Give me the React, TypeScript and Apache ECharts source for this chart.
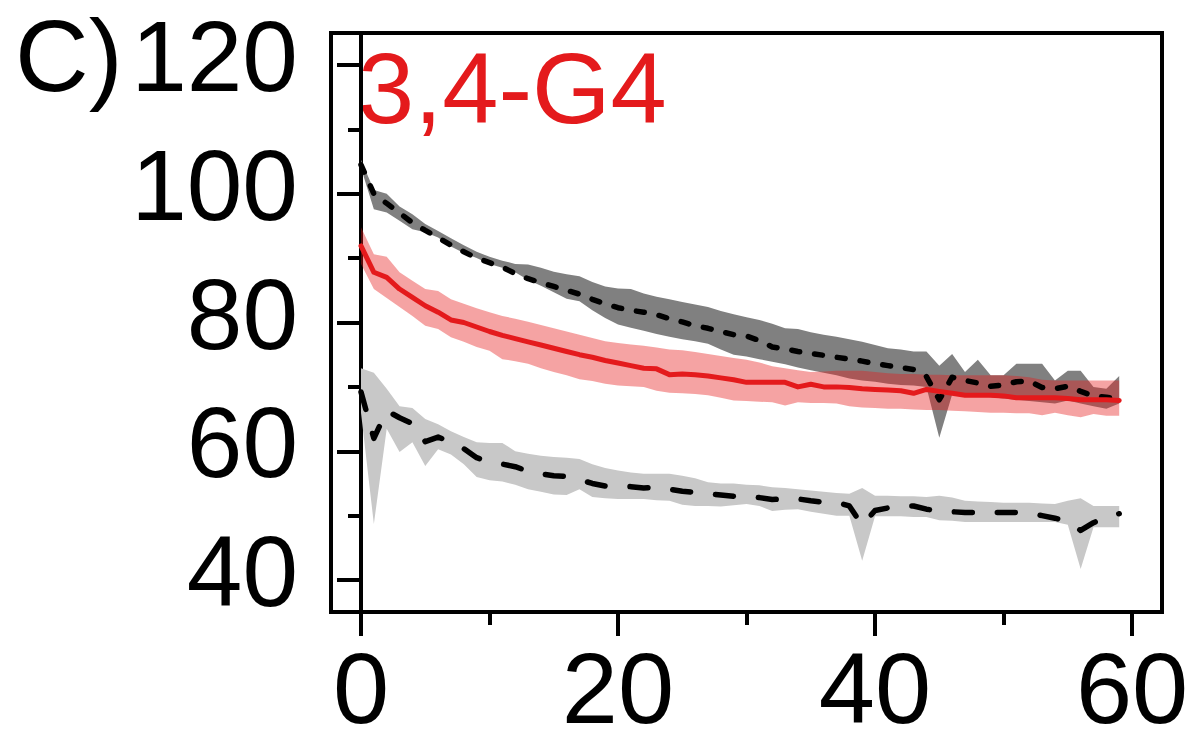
import React, { useEffect, useRef } from "react";
import * as echarts from "echarts";

// time points 0..59
const timePoints = [
  0, 1, 2, 3, 4, 5, 6, 7, 8, 9, 10, 11, 12, 13, 14, 15, 16, 17, 18, 19,
  20, 21, 22, 23, 24, 25, 26, 27, 28, 29, 30, 31, 32, 33, 34, 35, 36, 37, 38, 39,
  40, 41, 42, 43, 44, 45, 46, 47, 48, 49, 50, 51, 52, 53, 54, 55, 56, 57, 58, 59,
];

// red series (3,4-G4)
const redMean = [
  91.9, 87.8, 87.0, 85.2, 83.9, 82.6, 81.6, 80.4, 80.0, 79.3, 78.6, 78.0, 77.5, 77.0, 76.5, 76.0, 75.5, 75.0, 74.6, 74.1,
  73.7, 73.3, 72.9, 72.8, 71.9, 72.0, 71.9, 71.7, 71.4, 71.1, 70.7, 70.7, 70.7, 70.7, 70.0, 70.4, 70.0, 70.0, 69.9, 69.7,
  69.6, 69.5, 69.4, 69.0, 69.6, 69.3, 69.0, 68.7, 68.7, 68.7, 68.6, 68.3, 68.3, 68.3, 68.3, 68.2, 68.0, 68.0, 68.0, 67.9,
];
const redUpper = [
  94.8, 90.6, 90.2, 87.8, 86.5, 85.2, 84.9, 83.6, 82.9, 82.2, 81.6, 81.0, 80.6, 80.1, 79.6, 79.1, 78.6, 78.1, 77.6, 77.1,
  76.8, 76.6, 76.4, 76.1, 75.8, 75.7, 75.4, 75.1, 74.8, 74.5, 74.2, 73.8, 73.2, 72.9, 72.6, 72.3, 72.4, 72.5, 72.5, 72.5,
  72.3, 72.1, 72.0, 72.0, 71.9, 71.9, 71.8, 71.8, 71.8, 71.8, 71.8, 71.7, 71.5, 71.1, 71.0, 71.0, 71.0, 71.0, 71.0, 71.0,
];
const redLower = [
  89.1, 85.2, 83.8, 82.4, 81.0, 79.5, 79.0, 77.7, 77.0, 76.2, 75.6, 74.3, 74.0, 73.6, 72.9, 72.3, 71.8, 71.2, 70.9, 70.5,
  70.2, 70.1, 70.0, 69.4, 69.1, 69.0, 68.9, 68.7, 68.3, 67.9, 67.8, 67.7, 67.6, 67.1, 67.6, 67.5, 67.5, 67.4, 67.0, 66.8,
  66.7, 66.6, 66.6, 66.5, 66.4, 66.4, 66.3, 66.2, 66.1, 66.0, 66.0, 65.9, 65.9, 65.6, 66.0, 65.6, 65.3, 65.8, 65.5, 65.5,
];

// dark grey reference series (dashed black)
const darkMean = [
  104.5, 100.0, 98.5, 97.0, 95.5, 94.3, 93.2, 92.0, 91.0, 90.0, 89.3, 88.6, 87.6, 86.8, 86.2, 85.6, 85.0, 84.4, 83.6, 82.9,
  82.3, 81.9, 81.6, 81.2, 80.6, 80.1, 79.5, 79.1, 78.6, 78.1, 77.9, 77.2, 76.2, 75.9, 75.5, 75.2, 74.9, 74.6, 74.3, 74.0,
  73.6, 73.3, 73.0, 72.7, 71.6, 68.0, 71.5, 71.0, 70.6, 70.1, 70.3, 70.8, 70.9, 69.9, 69.7, 70.1, 69.3, 68.6, 68.4, 68.0,
];
const darkUpper = [
  105.3, 100.6, 100.0, 98.0, 96.8, 95.3, 94.2, 93.1, 92.0, 91.0, 90.2, 89.6, 89.1, 89.0, 88.5, 87.9, 87.5, 87.2, 86.3, 85.6,
  85.3, 85.2, 84.5, 84.0, 83.6, 83.2, 82.8, 82.4, 81.8, 81.3, 80.8, 80.4, 79.8, 79.1, 79.0, 78.5, 78.1, 77.8, 77.4, 77.0,
  76.5, 76.0, 75.8, 75.5, 75.5, 73.3, 75.1, 72.3, 74.2, 71.8, 71.8, 73.6, 73.6, 73.6, 71.0, 72.5, 72.5, 70.0, 69.7, 71.7,
];
const darkLower = [
  104.0, 97.6, 97.1, 95.8, 94.5, 94.0, 93.2, 91.8, 90.8, 90.0, 89.1, 88.5, 87.8, 86.6, 85.7, 84.7, 83.7, 83.3, 81.9, 80.7,
  79.7, 79.2, 78.7, 78.2, 77.8, 77.4, 77.1, 76.7, 75.8, 75.0, 74.7, 74.3, 73.9, 73.5, 73.0, 72.6, 72.2, 71.8, 71.3, 71.0,
  70.8, 70.5, 70.3, 70.2, 70.0, 62.1, 68.8, 68.7, 68.6, 68.4, 68.2, 68.0, 67.8, 67.6, 67.4, 67.9, 67.4, 67.0, 66.6, 67.4,
];

// light grey reference series (dashed black)
const lightMean = [
  69.2, 62.0, 66.3, 65.2, 64.3, 61.5, 62.2, 61.4, 60.4, 59.0, 58.3, 58.0, 57.6, 56.9, 56.5, 56.2, 56.1, 55.6, 55.0, 54.6,
  54.6, 54.5, 54.3, 54.4, 54.1, 53.8, 53.6, 53.4, 53.2, 53.0, 53.0, 52.8, 52.5, 52.6, 52.6, 52.3, 52.1, 52.1, 51.5, 48.5,
  50.8, 51.2, 51.5, 51.5, 51.0, 50.7, 50.6, 50.5, 50.5, 50.5, 50.5, 50.5, 50.4, 50.0, 49.6, 49.1, 47.7, 48.9, 49.8, 50.3,
];
const lightUpper = [
  72.9, 72.2, 69.7, 67.0, 66.7, 65.0, 64.2, 63.1, 62.2, 61.4, 61.3, 61.3, 60.0, 59.6, 59.3, 59.1, 59.0, 58.8, 58.0, 57.4,
  57.0, 56.7, 56.5, 56.5, 56.5, 56.2, 55.8, 55.2, 55.0, 55.0, 54.8, 54.7, 54.4, 54.3, 54.1, 53.9, 53.7, 53.5, 53.4, 54.3,
  53.1, 53.1, 53.0, 53.0, 52.9, 53.1, 52.8, 52.3, 52.2, 52.1, 52.0, 52.0, 52.0, 51.9, 51.8, 52.3, 52.7, 51.5, 51.5, 51.5,
];
const lightLower = [
  66.0, 48.7, 63.5, 59.9, 61.4, 57.7, 60.3, 59.5, 58.0, 56.0, 55.5, 55.3, 54.8, 54.1, 53.7, 53.3, 53.2, 54.1, 52.9, 52.7,
  52.6, 52.6, 52.6, 52.4, 52.3, 51.7, 51.5, 51.5, 51.4, 51.6, 51.8, 51.5, 50.7, 50.9, 51.0, 50.6, 50.3, 50.0, 50.0, 43.0,
  49.9, 49.9, 49.9, 49.8, 49.8, 49.3, 49.2, 49.0, 49.0, 49.0, 49.0, 49.0, 49.0, 49.0, 49.0, 48.6, 41.7, 48.2, 48.2, 48.2,
];

const yMajorTicks = [40, 60, 80, 100, 120];
const yMinorTicks = [50, 70, 90, 110];
const xMajorTicks = [0, 20, 40, 60];
const xMinorTicks = [10, 30, 50];

const panelLabel = "C)";
const titleText = "3,4-G4";

const FONT = "'Liberation Sans', Arial, Helvetica, sans-serif";

function pairs(vals: number[]) {
  return vals.map((v, i) => [timePoints[i], v]);
}

function bandSeries(id: string, lower: number[], upper: number[], color: string, opacity: number) {
  return {
    type: "custom",
    name: id,
    silent: true,
    xAxisIndex: 0,
    yAxisIndex: 0,
    data: [[timePoints[0], lower[0]]],
    renderItem: (params: any, api: any) => {
      const pts: number[][] = [];
      for (let i = 0; i < timePoints.length; i++) pts.push(api.coord([timePoints[i], upper[i]]));
      for (let i = timePoints.length - 1; i >= 0; i--) pts.push(api.coord([timePoints[i], lower[i]]));
      return {
        type: "polygon",
        shape: { points: pts },
        style: { fill: color, opacity, stroke: "none" },
      };
    },
  };
}

function lineSeries(id: string, vals: number[], color: string, width: number, dash: any) {
  return {
    type: "line",
    name: id,
    data: pairs(vals),
    symbol: "none",
    silent: true,
    lineStyle: { color, width, type: dash, cap: "round", join: "round" },
    xAxisIndex: 0,
    yAxisIndex: 0,
  };
}

const X_MIN = -2.335;
const X_MAX = 62.33;
const Y_MIN = 35.03;
const Y_MAX = 124.97;

export default function App() {
  const ref = useRef<HTMLDivElement>(null);
  useEffect(() => {
    if (!ref.current) return;
    const chart = echarts.init(ref.current, null, { renderer: "svg" });
    const option: any = {
      animation: false,
      backgroundColor: "#ffffff",
      textStyle: { fontFamily: FONT },
      grid: {
        left: 331,
        top: 33,
        right: 36,
        bottom: 142,
        show: true,
        borderColor: "#000",
        borderWidth: 4,
        containLabel: false,
        outerBoundsMode: "none",
      },
      xAxis: [
        {
          type: "value",
          position: "bottom",
          min: X_MIN,
          max: X_MAX,
          axisLine: { show: true, lineStyle: { color: "#000", width: 4 } },
          axisTick: { show: true, customValues: xMajorTicks, length: 24, lineStyle: { color: "#000", width: 4 } },
          axisLabel: {
            show: true,
            customValues: xMajorTicks,
            fontSize: 101,
            color: "#000",
            margin: 25,
            fontFamily: FONT,
          },
          splitLine: { show: false },
        },
        {
          type: "value",
          position: "bottom",
          min: X_MIN,
          max: X_MAX,
          axisLine: { show: false },
          axisTick: { show: true, customValues: xMinorTicks, length: 13, lineStyle: { color: "#000", width: 4 } },
          axisLabel: { show: false },
          splitLine: { show: false },
        },
      ],
      yAxis: [
        {
          type: "value",
          position: "left",
          min: Y_MIN,
          max: Y_MAX,
          axisLine: { show: true, lineStyle: { color: "#000", width: 4 } },
          axisTick: { show: true, customValues: yMajorTicks, length: 24, lineStyle: { color: "#000", width: 4 } },
          axisLabel: {
            show: true,
            customValues: yMajorTicks,
            color: "#000",
            margin: 33,
            formatter: (v: number) => "{t|" + v + "}",
            rich: {
              t: {
                fontSize: 100,
                fontFamily: FONT,
                color: "#000",
                lineHeight: 100,
                padding: [0, 0, 18, 0],
              },
            },
          },
          splitLine: { show: false },
        },
        {
          type: "value",
          position: "left",
          min: Y_MIN,
          max: Y_MAX,
          axisLine: { show: false },
          axisTick: { show: true, customValues: yMinorTicks, length: 13, lineStyle: { color: "#000", width: 4 } },
          axisLabel: { show: false },
          splitLine: { show: false },
        },
      ],
      graphic: [
        {
          type: "text",
          x: 15,
          y: 56,
          style: {
            text: panelLabel,
            fontSize: 102,
            lineHeight: 102,
            fontFamily: FONT,
            fill: "#000",
            align: "left",
            verticalAlign: "middle",
          },
        },
        {
          type: "text",
          x: 358,
          y: 88,
          style: {
            text: titleText,
            fontSize: 101,
            lineHeight: 101,
            fontFamily: FONT,
            fill: "#e41a1c",
            align: "left",
            verticalAlign: "middle",
          },
        },
      ],
      series: [
        bandSeries("light", lightLower, lightUpper, "#c8c8c8", 1),
        lineSeries("lightMean", lightMean, "#000", 5.5, [18, 25]),
        bandSeries("dark", darkLower, darkUpper, "#808080", 1),
        lineSeries("darkMean", darkMean, "#000", 5.5, [8, 15]),
        bandSeries("red", redLower, redUpper, "#e61919", 0.4),
        lineSeries("redMean", redMean, "#e41a1c", 5, "solid"),
      ],
    };
    chart.setOption(option);
    return () => chart.dispose();
  }, []);
  return (
    <div
      ref={ref}
      style={{ position: "fixed", left: 0, top: 0, width: 1198, height: 754, background: "#fff" }}
    />
  );
}
